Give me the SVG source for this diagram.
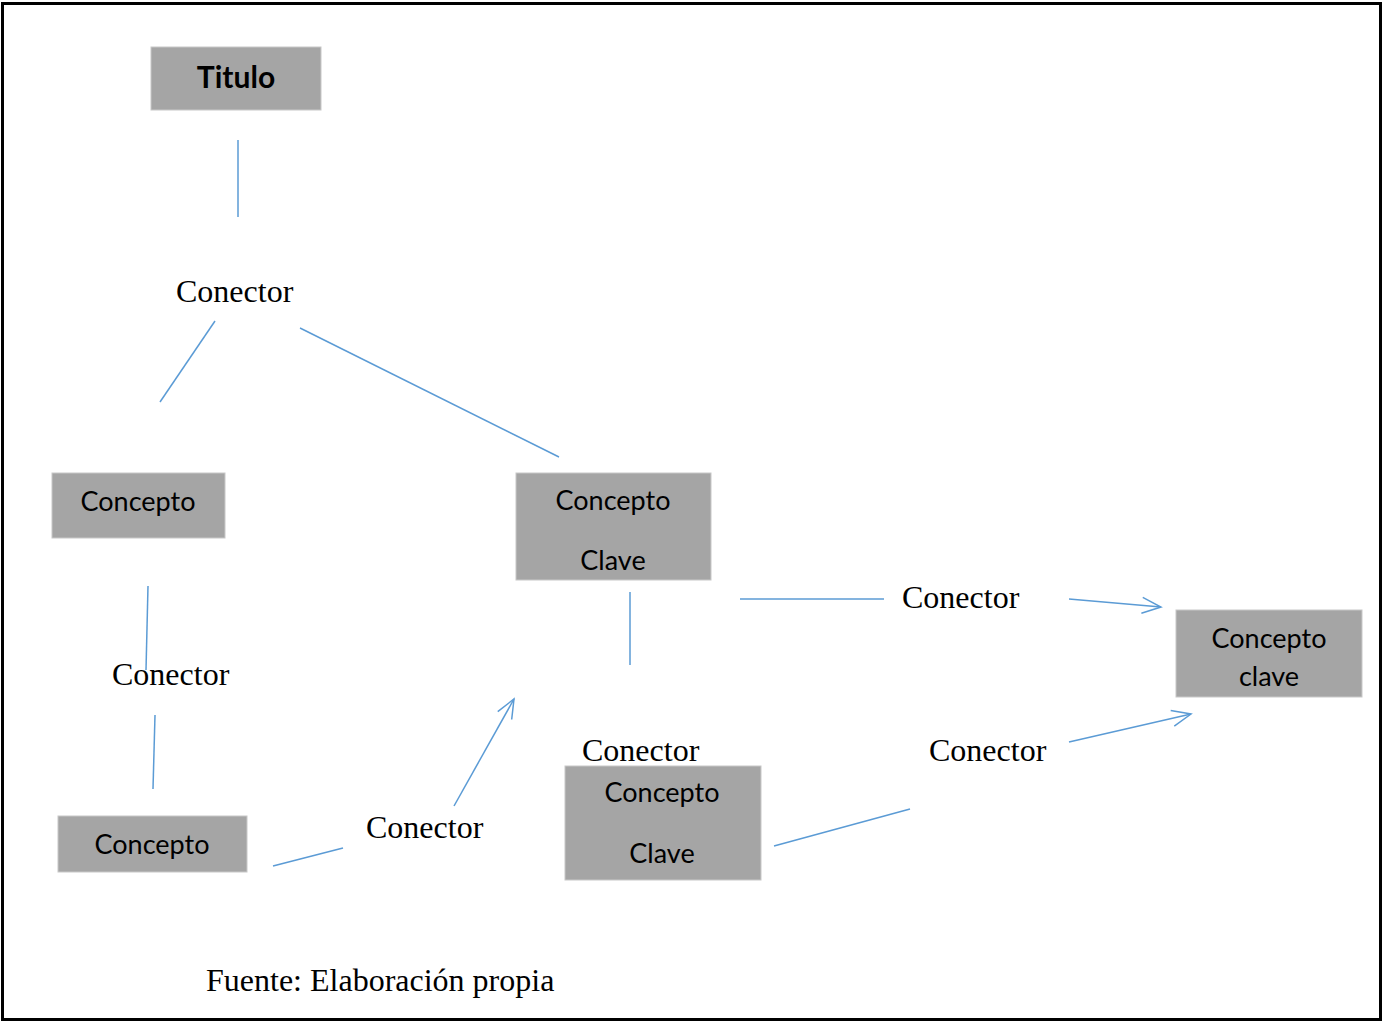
<svg xmlns="http://www.w3.org/2000/svg" width="1382" height="1021" viewBox="0 0 1382 1021">
<style>
.box{fill:#a5a5a5;stroke:#c8c8c8;stroke-width:1}
.bt{font-family:Lato,"Open Sans",sans-serif;font-size:27px;fill:#000;text-anchor:middle}
.tt{font-size:30px;font-weight:bold}
.ct{font-family:"Liberation Serif","Times New Roman",serif;font-size:32px;fill:#000}
.ln{stroke:#5b9bd5;stroke-width:1.5;fill:none}
</style>
<defs>
<marker id="ah" markerUnits="userSpaceOnUse" markerWidth="40" markerHeight="40" viewBox="-20 -20 40 40" refX="0" refY="0" orient="auto">
<path d="M-19,-8 L0,0 L-19,8" fill="none" stroke="#5b9bd5" stroke-width="1.5"/>
</marker>
</defs>
<rect x="2.5" y="3.5" width="1378" height="1016" fill="#fff" stroke="#000" stroke-width="3"/>
<g id="titulo"><rect class="box" x="151" y="47" width="170" height="63"/><text class="bt tt" x="236" y="88">Titulo</text></g>
<g id="concepto1"><rect class="box" x="52" y="473" width="173" height="65"/><text class="bt" x="138" y="511">Concepto</text></g>
<g id="clave1"><rect class="box" x="516" y="473" width="195" height="107"/><text class="bt" x="613" y="510">Concepto</text><text class="bt" x="613" y="570">Clave</text></g>
<g id="clave2"><rect class="box" x="1176" y="610" width="186" height="87"/><text class="bt" x="1269" y="648">Concepto</text><text class="bt" x="1269" y="686">clave</text></g>
<g id="concepto2"><rect class="box" x="58" y="816" width="189" height="56"/><text class="bt" x="152" y="854">Concepto</text></g>
<g id="clave3"><rect class="box" x="565" y="766" width="196" height="114"/><text class="bt" x="662" y="802">Concepto</text><text class="bt" x="662" y="863">Clave</text></g>
<g id="connectors">
<line class="ln" x1="238" y1="140" x2="238" y2="217"/>
<line class="ln" x1="215" y1="321" x2="160" y2="402"/>
<line class="ln" x1="300" y1="328" x2="559" y2="457"/>
<line class="ln" x1="148" y1="586" x2="146" y2="670"/>
<line class="ln" x1="155" y1="715" x2="153" y2="789"/>
<line class="ln" x1="273" y1="866" x2="343" y2="848"/>
<line class="ln" x1="454" y1="806" x2="514" y2="699" marker-end="url(#ah)"/>
<line class="ln" x1="630" y1="592" x2="630" y2="665"/>
<line class="ln" x1="740" y1="599" x2="884" y2="599"/>
<line class="ln" x1="1069" y1="599" x2="1161" y2="607" marker-end="url(#ah)"/>
<line class="ln" x1="774" y1="846" x2="910" y2="809"/>
<line class="ln" x1="1069" y1="742" x2="1191" y2="714" marker-end="url(#ah)"/>
</g>
<g id="labels">
<text class="ct" x="176" y="302">Conector</text>
<text class="ct" x="112" y="685">Conector</text>
<text class="ct" x="902" y="608">Conector</text>
<text class="ct" x="582" y="761">Conector</text>
<text class="ct" x="929" y="761">Conector</text>
<text class="ct" x="366" y="838">Conector</text>
<text class="ct" x="206" y="991">Fuente: Elaboración propia</text>
</g>
</svg>
